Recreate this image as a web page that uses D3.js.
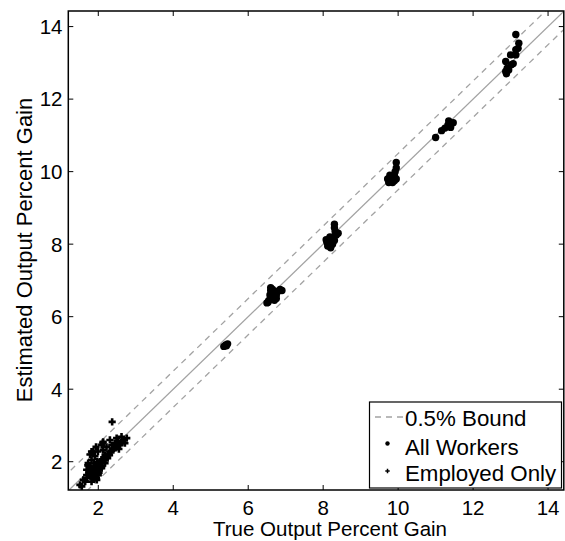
<!DOCTYPE html>
<html><head><meta charset="utf-8">
<script src="https://cdn.jsdelivr.net/npm/d3@7"></script>
<style>body{margin:0;background:#fff}svg{display:block;font-family:"Liberation Sans",Arial,sans-serif}</style>
</head><body><svg id="c" width="565" height="541"></svg>
<script>
const xTicks = [2,4,6,8,10,12,14];
const yTicks = [2,4,6,8,10,12,14];
const boundOffset = 0.5;
const allWorkersX = [5.35,5.40,5.45,5.42,
 6.53,6.55,6.6,6.6,6.65,6.7,6.75,6.8,6.85,6.7,6.6,6.65,6.58,6.75,6.9,6.5,
 8.3,8.3,8.32,8.35,8.28,8.2,8.15,8.1,8.12,8.2,8.25,8.3,8.18,8.08,8.4,
 9.95,9.95,9.92,9.9,9.85,9.8,9.75,9.72,9.85,9.9,9.78,9.95,
 11.0,11.16,11.25,11.35,11.47,11.4,11.33,
 13.14,13.22,13.2,13.14,13.0,13.14,12.87,13.07,12.91,12.87,12.89,12.95,13.02];
const allWorkersY = [5.18,5.22,5.25,5.2,
 6.4,6.45,6.5,6.72,6.6,6.55,6.6,6.7,6.75,6.45,6.8,6.75,6.6,6.5,6.72,6.38,
 8.55,8.45,8.35,8.25,8.2,8.15,8.1,8.05,7.95,7.9,8.0,8.1,8.2,8.12,8.3,
 10.25,10.1,10.0,9.9,9.85,9.75,9.7,9.8,9.7,9.75,9.9,9.8,
 10.94,11.13,11.2,11.4,11.35,11.22,11.29,
 13.78,13.54,13.4,13.36,13.22,13.22,13.04,12.98,12.85,12.76,12.7,12.8,12.95];
const employedX = [2.37,1.51,1.6,1.69,1.82,2.09,2.13,2.31,2.49,2.62,2.76,2.45,2.58,2.4,2.27,2.13,2.05,1.96,1.87,1.78,1.73,1.82,1.91,1.99,1.87,1.78,2.09,2.0,1.87,1.78,1.69,2.13,2.22,2.36,2.53,2.67,2.71,2.49,2.31,2.18,2.09,2.18,1.91,1.82,1.96,1.65,1.56,1.84,1.94,2.12,1.75,1.9,2.05,2.2,2.35,1.95,2.0,2.25,
 1.8,1.85,1.92,1.98,2.03,1.76,1.88,2.1,2.15,2.25,2.3,2.42,2.55,2.62,2.5,1.7,1.72,1.95,2.02,2.08,1.83,1.9,1.97];
const employedY = [3.1,1.36,1.5,1.63,2.28,2.46,2.55,2.6,2.65,2.69,2.65,2.51,2.46,2.32,2.19,2.05,1.91,1.82,1.72,1.82,1.96,2.05,2.15,2.28,2.28,2.2,1.82,1.63,1.54,1.6,1.78,2.32,2.41,2.46,2.55,2.6,2.51,2.41,2.28,2.19,2.05,1.96,1.68,1.45,1.5,1.45,1.32,2.25,2.41,2.52,1.7,1.85,2.0,2.1,2.3,1.75,1.9,2.2,
 1.65,1.58,1.62,1.72,1.78,1.88,1.95,1.88,2.12,2.1,2.18,2.38,2.35,2.52,2.56,1.55,1.9,1.55,1.7,1.98,1.8,1.68,2.0];
const legendLabels = ["0.5% Bound","All Workers","Employed Only"];
const xLabel = "True Output Percent Gain";
const yLabel = "Estimated Output Percent Gain";

const svg = d3.select("#c");
const L=68.3,R=563.8,T=11,B=490;
const x = d3.scaleLinear().domain([1.2,14.42]).range([L,R]);
const y = d3.scaleLinear().domain([1.22,14.43]).range([B,T]);
const gray="#a3a3a3";
svg.append("clipPath").attr("id","pc").append("rect").attr("x",L).attr("y",T).attr("width",R-L).attr("height",B-T);
const g = svg.append("g").attr("clip-path","url(#pc)");
const dom=[0,16];
g.append("line").attr("x1",x(dom[0])).attr("y1",y(dom[0])).attr("x2",x(dom[1])).attr("y2",y(dom[1])).attr("stroke",gray).attr("stroke-width",1.3);
[boundOffset,-boundOffset].forEach(o=>{
  g.append("line").attr("x1",x(dom[0])).attr("y1",y(dom[0]+o)).attr("x2",x(dom[1])).attr("y2",y(dom[1]+o))
   .attr("stroke",gray).attr("stroke-width",1.3).attr("stroke-dasharray","6,5");
});
g.selectAll("circle.aw").data(allWorkersX.map((v,i)=>[v,allWorkersY[i]])).enter().append("circle")
 .attr("cx",d=>x(d[0])).attr("cy",d=>y(d[1])).attr("r",3.7).attr("fill","#000");
const plusSym = {draw(ctx){const r=3.6;ctx.moveTo(-r,0);ctx.lineTo(r,0);ctx.moveTo(0,-r);ctx.lineTo(0,r);}};
g.selectAll("path.em").data(employedX.map((v,i)=>[v,employedY[i]])).enter().append("path")
 .attr("d",d3.symbol().type(plusSym).size(1))
 .attr("transform",d=>`translate(${x(d[0])},${y(d[1])})`).attr("stroke","#000").attr("stroke-width",2.6).attr("fill","none");

svg.append("rect").attr("x",L).attr("y",T).attr("width",R-L).attr("height",B-T).attr("fill","none").attr("stroke","#000").attr("stroke-width",1.5);
const tl=5;
const ax=svg.append("g");
xTicks.forEach(t=>{
  ax.append("line").attr("x1",x(t)).attr("x2",x(t)).attr("y1",B).attr("y2",B-tl).attr("stroke","#000");
  ax.append("line").attr("x1",x(t)).attr("x2",x(t)).attr("y1",T).attr("y2",T+tl).attr("stroke","#000");
  ax.append("text").attr("x",x(t)).attr("y",514.5).attr("text-anchor","middle").attr("font-size",20.5).text(t);
});
yTicks.forEach(t=>{
  ax.append("line").attr("x1",L).attr("x2",L+tl).attr("y1",y(t)).attr("y2",y(t)).attr("stroke","#000");
  ax.append("line").attr("x1",R).attr("x2",R-tl).attr("y1",y(t)).attr("y2",y(t)).attr("stroke","#000");
  ax.append("text").attr("x",62.5).attr("y",y(t)).attr("dy","0.36em").attr("text-anchor","end").attr("font-size",20.5).text(t);
});
svg.append("text").attr("x",330).attr("y",536).attr("text-anchor","middle").attr("font-size",20.5).text(xLabel);
svg.append("text").attr("transform","translate(32,250) rotate(-90)").attr("text-anchor","middle").attr("font-size",22).text(yLabel);

const lg=svg.append("g");
lg.append("rect").attr("x",369.5).attr("y",402).attr("width",192).attr("height",86).attr("fill","#fff").attr("stroke","#000").attr("stroke-width",1.2);
const ly=[426,454.5,481];
lg.append("line").attr("x1",375).attr("x2",404).attr("y1",417).attr("y2",417).attr("stroke",gray).attr("stroke-width",1.3).attr("stroke-dasharray","6,5");
lg.append("circle").attr("cx",387.5).attr("cy",443.5).attr("r",2.2).attr("fill","#000");
lg.append("path").attr("d","M385.3,471H389.7M387.5,468.8V473.2").attr("stroke","#000").attr("stroke-width",1.5);
legendLabels.forEach((s,i)=>lg.append("text").attr("x",405).attr("y",ly[i]).attr("font-size",22.3).text(s));
</script></body></html>
